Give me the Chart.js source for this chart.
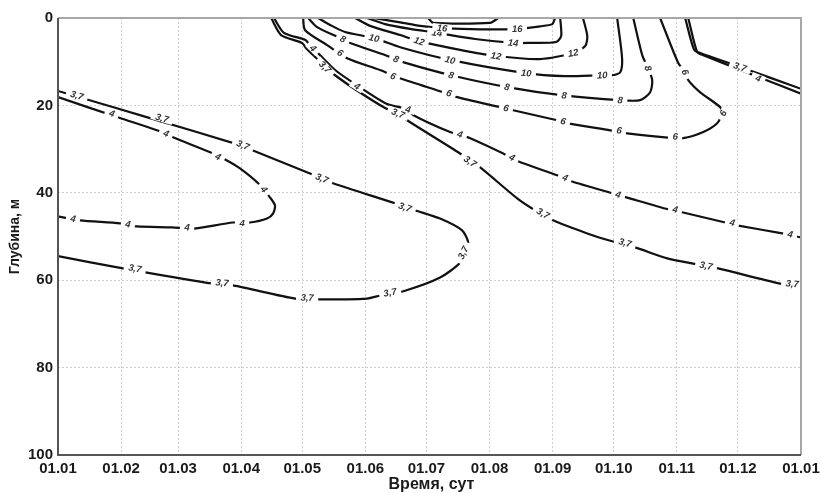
<!DOCTYPE html>
<html>
<head>
<meta charset="utf-8">
<script src="https://cdn.jsdelivr.net/npm/chart.js@4.4.0/dist/chart.umd.min.js"></script>
<style>html,body{margin:0;padding:0;background:#fff}</style>
</head>
<body>
<canvas id="chart" width="821" height="493"></canvas>
<script>
// ось времени: сутки от 1 января, подписи по месяцам
const monthStarts = [0, 31, 59, 90, 120, 151, 181, 212, 243, 273, 304, 334, 365];
const tickLabels = ['01.01', '01.02', '01.03', '01.04', '01.05', '01.06', '01.07',
                    '01.08', '01.09', '01.10', '01.11', '01.12', '01.01'];
const depthTicks = [0, 20, 40, 60, 80, 100];

// изолинии [сутки, глубина м]
const line37a = [[0,16.7],[11.8,18.3],[45.2,22.9],[89.4,29.1],[95.8,30.3],[123.8,35.6],[135.1,37.8],
  [165.6,42.4],[175.4,44.0],[187.7,45.9],[198.5,48.6],[201.5,51.4],[199,53.7],[197.5,56.0],
  [187.7,59.4],[170.5,62.4],[158.2,63.5],[151.8,64.2],[127.8,64.4],[116.5,64.2],[86,61.2],
  [73.2,60.6],[31.9,57.3],[0,54.5]];
const labels37a = [[9.3,17.7],[51.1,22.9],[90.9,29.1],[129.7,36.7],[170.5,43.3],[199,53.7],
  [163.1,62.8],[122.4,64.0],[80.6,60.6],[37.8,57.3]];

const line4a = [[0,18.1],[30.5,22.9],[48.6,25.7],[56.5,27.3],[76.2,31.0],[83,32.6],[89.4,34.4],
  [98.3,37.8],[104.2,41.1],[106.6,42.9],[105.7,44.7],[102.7,45.9],[94.3,46.8],[86,46.8],
  [66.3,48.2],[56,47.9],[38.8,47.7],[30.5,47.0],[10.8,46.3],[0,45.4]];
const labels4a = [[26.5,21.8],[53.1,26.4],[78.6,31.7],[101.2,39.2],[90.4,46.8],[63.4,47.9],
  [34.4,47.2],[7.4,45.9]];

const line4b = [[106.1,0],[111,3.4],[121.4,5.0],[123.8,6.2],[128.7,8.5],[136.1,11.9],[146.9,15.4],
  [161.7,19.7],[172,20.9],[174.4,22.2],[192.6,26.1],[202.5,27.5],[218.7,31.0],[226,32.8],
  [245.2,36.0],[252.6,37.4],[272.2,40.1],[279.6,41.1],[299.8,43.8],[307.1,44.5],[327.8,46.8],
  [334.2,47.5],[355.8,49.3],[365,50.2]];
const labels4b = [[125.3,6.9],[146.9,15.6],[172,20.9],[197.5,26.6],[223.1,31.9],[249.1,36.5],
  [275.2,40.4],[303.2,43.8],[331.2,46.8],[359.7,49.5]];

const line37b = [[104.7,0],[109.6,3.9],[119.9,5.7],[121.9,6.9],[127.8,9.6],[131.2,11.2],[136.1,13.1],
  [145.9,16.3],[160.7,20.6],[167.1,21.8],[171.5,23.4],[197.5,31.0],[207.4,34.2],[225.6,41.3],
  [232.9,43.6],[243.2,46.3],[260,49.3],[272.2,51.1],[283.5,52.5],[299.3,55.0],[312,56.2],
  [324.3,57.3],[354.8,60.8],[365,61.2]];
const labels37b = [[131.2,11.2],[167.1,21.8],[202.5,32.8],[238.3,44.7],[278.6,51.4],[318.4,56.7],
  [360.7,60.8]];

const line37c = [[308.1,0],[312.5,7.3],[315.5,8.0],[335.1,11.2],[365,16.2]];
const labels37c = [[335.1,11.2]];
const line4c = [[309.6,0],[314,7.8],[317,8.5],[344,13.5],[365,17.3]];
const labels4c = [[344,13.8]];

const line6 = [[120.4,0],[121.4,2.8],[132.2,6.2],[142,9.2],[158.2,11.9],[168.1,13.8],[189.2,17.0],
  [196.1,18.1],[217.2,20.4],[223.6,21.1],[245.2,23.4],[250.6,24.1],[271.3,25.7],[279.6,26.4],
  [298.3,27.3],[307.1,27.5],[317,26.1],[323.8,24.1],[326.3,21.8],[325.3,20.4],[315.5,17.0],
  [309.6,14.2],[308.1,12.4],[304.7,10.3],[295.8,0]];
const labels6 = [[138.6,8.0],[164.6,13.3],[192.1,17.2],[220.1,20.6],[248.2,23.6],[275.7,25.7],
  [303.2,27.1],[326.8,21.8],[308.1,12.4]];

const line8 = [[122.9,0],[127.3,2.1],[137.6,4.4],[143.5,5.7],[163.1,8.9],[169.5,10.1],[193.1,13.1],
  [220.6,15.8],[248.2,17.7],[276.2,18.8],[286,18.8],[290.9,17.0],[291.9,14.2],[289.9,11.5],
  [287,8.5],[282.6,0]];
const labels8 = [[140,4.8],[166.1,9.4],[193.1,13.1],[220.6,15.8],[248.7,17.7],[276.2,18.8],[289.9,11.5]];

const line10 = [[127.8,0],[133.7,1.6],[141,3.2],[155.3,4.6],[168.1,6.7],[192.6,9.6],[229.5,12.6],
  [249.1,13.3],[267.3,13.1],[272.2,13.1],[276.2,12.4],[277.1,9.2],[274.7,0]];
const labels10 = [[155.3,4.6],[192.6,9.6],[230,12.6],[267.3,13.1]];

const line12 = [[145.9,0],[153.3,1.8],[168.1,3.9],[177.4,5.3],[197.5,7.3],[215.2,8.7],[236.9,9.4],
  [253.1,8.0],[259,6.4],[260,4.1],[257.9,0]];
const labels12 = [[177.4,5.3],[215.2,8.7],[253.1,8.0]];

const line14 = [[151.8,0],[160.7,1.4],[173,2.5],[186.2,3.4],[204.9,4.8],[223.6,5.7],[231.9,5.7],
  [244.7,5.5],[247.2,4.1],[246.7,0]];
const labels14 = [[186.2,3.4],[223.6,5.7]];

const line16 = [[154.8,0],[168.1,1.0],[177.9,1.8],[188.7,2.3],[207.4,2.6],[225.6,2.5],[236.9,1.9],
  [242.8,1.4],[244.2,0]];
const labels16 = [[188.7,2.3],[225.6,2.5]];

const line18 = [[181.8,0],[184.3,1.1],[212.3,1.1],[215.7,0.2],[216.2,0]];

const contours = [
  { text: '3,7', pts: line37a, labels: labels37a },
  { text: '4', pts: line4a, labels: labels4a },
  { text: '4', pts: line4b, labels: labels4b },
  { text: '3,7', pts: line37b, labels: labels37b },
  { text: '3,7', pts: line37c, labels: labels37c },
  { text: '4', pts: line4c, labels: labels4c },
  { text: '6', pts: line6, labels: labels6 },
  { text: '8', pts: line8, labels: labels8 },
  { text: '10', pts: line10, labels: labels10 },
  { text: '12', pts: line12, labels: labels12 },
  { text: '14', pts: line14, labels: labels14 },
  { text: '16', pts: line16, labels: labels16 },
  { text: '18', pts: line18, labels: [] }
];

const FONT = '"Liberation Sans", Arial, sans-serif';

// подписи изолиний с разрывом линии + рамка + подписи осей
const contourLabels = {
  id: 'contourLabels',
  afterDatasetsDraw(chart) {
    const { ctx, chartArea: a, scales: { x, y } } = chart;
    ctx.save();
    ctx.beginPath();
    ctx.rect(a.left, a.top, a.right - a.left, a.bottom - a.top);
    ctx.clip();
    ctx.font = 'bold italic 9.5px ' + FONT;
    ctx.textAlign = 'center';
    ctx.textBaseline = 'middle';
    contours.forEach(c => {
      const px = c.pts.map(p => [x.getPixelForValue(p[0]), y.getPixelForValue(p[1])]);
      c.labels.forEach(l => {
        const lx = x.getPixelForValue(l[0]), ly = y.getPixelForValue(l[1]);
        let best = 1e9, ang = 0;
        for (let i = 0; i < px.length - 1; i++) {
          const [x1, y1] = px[i], [x2, y2] = px[i + 1];
          const dx = x2 - x1, dy = y2 - y1, L = dx * dx + dy * dy || 1;
          let t = ((lx - x1) * dx + (ly - y1) * dy) / L;
          t = Math.max(0, Math.min(1, t));
          const d = Math.hypot(x1 + t * dx - lx, y1 + t * dy - ly);
          if (d < best) { best = d; ang = Math.atan2(dy, dx); }
        }
        if (ang > Math.PI / 2) ang -= Math.PI;
        if (ang < -Math.PI / 2) ang += Math.PI;
        const w = ctx.measureText(c.text).width + 9;
        ctx.save();
        ctx.translate(lx, ly);
        ctx.rotate(ang);
        ctx.fillStyle = '#fff';
        ctx.fillRect(-w / 2, -4, w, 8);
        ctx.fillStyle = '#333';
        ctx.fillText(c.text, 0, 0.5);
        ctx.restore();
      });
    });
    ctx.restore();
  },
  afterDraw(chart) {
    const { ctx, chartArea: a } = chart;
    ctx.save();
    // рамка
    ctx.lineWidth = 2;
    ctx.strokeStyle = '#a8a8a8';
    ctx.beginPath();
    ctx.moveTo(a.left, a.top); ctx.lineTo(a.right, a.top); ctx.lineTo(a.right, a.bottom);
    ctx.stroke();
    ctx.strokeStyle = '#555';
    ctx.beginPath();
    ctx.moveTo(a.left, a.top); ctx.lineTo(a.left, a.bottom); ctx.lineTo(a.right, a.bottom);
    ctx.stroke();
    // заголовки осей
    ctx.fillStyle = '#1a1a1a';
    ctx.textAlign = 'center';
    ctx.textBaseline = 'middle';
    ctx.font = 'bold 16px ' + FONT;
    ctx.fillText('Время, сут', (a.left + a.right) / 2 + 2, 485);
    ctx.font = 'bold 14px ' + FONT;
    ctx.translate(15, (a.top + a.bottom) / 2);
    ctx.rotate(-Math.PI / 2);
    ctx.fillText('Глубина, м', 0, 0);
    ctx.restore();
  }
};

const ctx = document.getElementById('chart').getContext('2d');
new Chart(ctx, {
  type: 'scatter',
  data: {
    datasets: contours.map(c => ({
      data: c.pts.map(p => ({ x: p[0], y: p[1] })),
      showLine: true,
      borderColor: '#111',
      borderWidth: 2.2,
      pointRadius: 0,
      tension: 0.25,
      fill: false
    }))
  },
  options: {
    responsive: false,
    animation: false,
    layout: { padding: { left: 0, top: 18, right: 20, bottom: 0 } },
    plugins: { legend: { display: false }, tooltip: { enabled: false } },
    scales: {
      x: {
        type: 'linear',
        min: 0,
        max: 365,
        afterBuildTicks: s => { s.ticks = monthStarts.map(v => ({ value: v })); },
        afterFit: s => { s.height = 38; s.paddingLeft = 0; s.paddingRight = 0; },
        grid: { color: '#cfcfcf', lineWidth: 1, drawTicks: false },
        border: { display: false, dash: [2, 2] },
        ticks: {
          padding: 5,
          color: '#1a1a1a',
          font: { family: FONT, size: 15, weight: 'bold' },
          maxRotation: 0,
          autoSkip: false,
          callback: (v, i) => tickLabels[i]
        }
      },
      y: {
        type: 'linear',
        reverse: true,
        min: 0,
        max: 100,
        afterBuildTicks: s => { s.ticks = depthTicks.map(v => ({ value: v })); },
        afterFit: s => { s.width = 58; s.paddingTop = 0; s.paddingBottom = 0; },
        grid: { color: '#cfcfcf', lineWidth: 1, drawTicks: false },
        border: { display: false, dash: [2, 2] },
        ticks: {
          padding: 5,
          color: '#1a1a1a',
          font: { family: FONT, size: 15, weight: 'bold' }
        }
      }
    }
  },
  plugins: [contourLabels]
});
</script>
</body>
</html>
